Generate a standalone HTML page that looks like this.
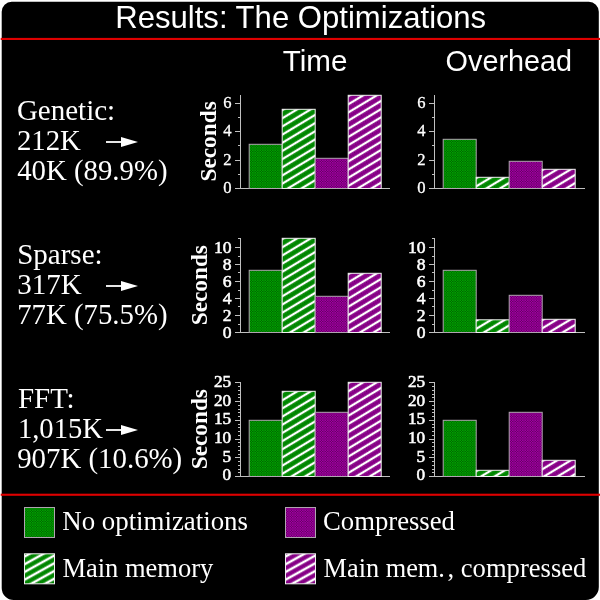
<!DOCTYPE html>
<html><head><meta charset="utf-8"><title>Results: The Optimizations</title>
<style>
html,body{margin:0;padding:0;background:#fff;}
body{width:600px;height:600px;overflow:hidden;}
svg{display:block;}
text{fill:#fff;}
.ttl{font-family:"Liberation Sans",Arial,Helvetica,sans-serif;font-size:31.1px;}
.hd{font-family:"Liberation Sans",Arial,Helvetica,sans-serif;}
.lb{font-family:"Liberation Serif","Times New Roman",serif;}
.lg{font-family:"Liberation Serif","Times New Roman",serif;}
.tk{font-family:"Liberation Serif","Times New Roman",serif;}
.tkb{font-weight:bold;}
.tkn{stroke:#fff;stroke-width:0.3px;}
.tks{stroke:#fff;stroke-width:0.55px;}
.sec{font-family:"Liberation Serif","Times New Roman",serif;font-size:23.3px;font-weight:bold;}
</style></head>
<body>
<svg width="600" height="600" viewBox="0 0 600 600">
<defs>
<pattern id="gs" width="5" height="5" patternUnits="userSpaceOnUse"><rect width="5" height="5" fill="#008600"/><path d="M0 0h1v1h-1zM2 0h1v1h-1zM1 1h1v1h-1zM0 2h1v1h-1zM2 2h1v1h-1z" fill="#00a000"/><path d="M1 0h1v1h-1zM0 1h1v1h-1zM2 1h1v1h-1zM1 2h1v1h-1z" fill="#006800"/></pattern>
<pattern id="ps" width="5" height="5" patternUnits="userSpaceOnUse"><rect width="5" height="5" fill="#860086"/><path d="M0 0h1v1h-1zM2 0h1v1h-1zM1 1h1v1h-1zM0 2h1v1h-1zM2 2h1v1h-1z" fill="#a000a0"/><path d="M1 0h1v1h-1zM0 1h1v1h-1zM2 1h1v1h-1zM1 2h1v1h-1z" fill="#680068"/></pattern>
</defs>
<rect x="0" y="0" width="600" height="600" fill="#fff"/>
<path d="M11.7 1.7H588.8A10 10 0 0 1 598.8 11.7V587A13 13 0 0 1 585.8 600H13.7A12 12 0 0 1 1.7 588V11.7A10 10 0 0 1 11.7 1.7Z" fill="#000"/>
<rect x="0.7" y="37.9" width="599.3" height="2.1" fill="#df0000"/>
<rect x="0.7" y="493.7" width="599.3" height="2.1" fill="#df0000"/>
<text transform="translate(115.2,27.6) scale(1,1.02)" class="ttl">Results: The Optimizations</text>
<text transform="translate(282.7,71.3) scale(1,1.02)" class="hd" font-size="29.6">Time</text>
<text transform="translate(445.6,71.3) scale(1,1.02)" class="hd" font-size="28.8">Overhead</text>
<text x="16.9" y="120" class="lb" font-size="29">Genetic:</text>
<text x="16.9" y="150" class="lb" font-size="28.8">212K</text>
<text x="17.2" y="179.7" class="lb" font-size="28.8">40K (89.9%)</text>
<text x="17.2" y="264" class="lb" font-size="29">Sparse:</text>
<text x="17.2" y="294" class="lb" font-size="29">317K</text>
<text x="17.2" y="323.7" class="lb" font-size="28.8">77K (75.5%)</text>
<text x="17.9" y="408" class="lb" font-size="29">FFT:</text>
<text x="17.9" y="438" class="lb" font-size="28.6">1,015K</text>
<text x="17.2" y="467.7" class="lb" font-size="28.85">907K (10.6%)</text>
<rect x="106" y="141.1" width="16" height="1.8" fill="#fff"/><polygon points="121,137 138,142 121,147" fill="#fff"/>
<rect x="106" y="285.1" width="16" height="1.8" fill="#fff"/><polygon points="121,281 138,286 121,291" fill="#fff"/>
<rect x="106" y="429.1" width="16" height="1.8" fill="#fff"/><polygon points="121,425 138,430 121,435" fill="#fff"/>
<rect x="240" y="95" width="1" height="94" fill="#c0c0c0"/>
<rect x="235" y="188" width="155" height="1" fill="#c0c0c0"/>
<rect x="235" y="160" width="5" height="1" fill="#c0c0c0"/>
<rect x="235" y="131" width="5" height="1" fill="#c0c0c0"/>
<rect x="235" y="103" width="5" height="1" fill="#c0c0c0"/>
<rect x="238" y="174" width="2" height="1" fill="#c0c0c0"/>
<rect x="238" y="145" width="2" height="1" fill="#c0c0c0"/>
<rect x="238" y="117" width="2" height="1" fill="#c0c0c0"/>
<text x="231.5" y="193.1" text-anchor="end" class="tk tkn" font-size="16.6">0</text>
<text x="231.5" y="164.7" text-anchor="end" class="tk tkn" font-size="16.6">2</text>
<text x="231.5" y="136.4" text-anchor="end" class="tk tkn" font-size="16.6">4</text>
<text x="231.5" y="108.1" text-anchor="end" class="tk tkn" font-size="16.6">6</text>
<rect x="249.2" y="144.3" width="33" height="44.2" fill="url(#gs)" stroke="#b0a4b0" stroke-width="1"/>
<pattern id="h1" width="20" height="7" patternUnits="userSpaceOnUse" patternTransform="translate(282.2,110.2) rotate(-31)"><rect width="20" height="7" fill="url(#gs)"/><rect width="20" height="1.15" fill="#fff"/><rect y="5.85" width="20" height="1.15" fill="#fff"/></pattern>
<rect x="282.2" y="109.3" width="33" height="79.2" fill="url(#h1)" stroke="#f0f0f0" stroke-width="1"/>
<rect x="315.2" y="158.3" width="33" height="30.2" fill="url(#ps)" stroke="#b0a4b0" stroke-width="1"/>
<pattern id="h2" width="20" height="7" patternUnits="userSpaceOnUse" patternTransform="translate(348.2,96.2) rotate(-31)"><rect width="20" height="7" fill="url(#ps)"/><rect width="20" height="1.15" fill="#fff"/><rect y="5.85" width="20" height="1.15" fill="#fff"/></pattern>
<rect x="348.2" y="95.3" width="33" height="93.2" fill="url(#h2)" stroke="#f0f0f0" stroke-width="1"/>
<text transform="translate(215.9,141.4) rotate(-90)" text-anchor="middle" class="sec">Seconds</text>
<rect x="434" y="95" width="1" height="94" fill="#c0c0c0"/>
<rect x="429" y="188" width="156" height="1" fill="#c0c0c0"/>
<rect x="429" y="160" width="5" height="1" fill="#c0c0c0"/>
<rect x="429" y="131" width="5" height="1" fill="#c0c0c0"/>
<rect x="429" y="103" width="5" height="1" fill="#c0c0c0"/>
<rect x="432" y="174" width="2" height="1" fill="#c0c0c0"/>
<rect x="432" y="145" width="2" height="1" fill="#c0c0c0"/>
<rect x="432" y="117" width="2" height="1" fill="#c0c0c0"/>
<text x="425.5" y="193.1" text-anchor="end" class="tk tkn" font-size="16.6">0</text>
<text x="425.5" y="164.7" text-anchor="end" class="tk tkn" font-size="16.6">2</text>
<text x="425.5" y="136.4" text-anchor="end" class="tk tkn" font-size="16.6">4</text>
<text x="425.5" y="108.1" text-anchor="end" class="tk tkn" font-size="16.6">6</text>
<rect x="443.2" y="139.3" width="33" height="49.2" fill="url(#gs)" stroke="#b0a4b0" stroke-width="1"/>
<pattern id="h3" width="20" height="7" patternUnits="userSpaceOnUse" patternTransform="translate(476.2,178.2) rotate(-31)"><rect width="20" height="7" fill="url(#gs)"/><rect width="20" height="1.15" fill="#fff"/><rect y="5.85" width="20" height="1.15" fill="#fff"/></pattern>
<rect x="476.2" y="177.3" width="33" height="11.2" fill="url(#h3)" stroke="#f0f0f0" stroke-width="1"/>
<rect x="509.2" y="161.3" width="33" height="27.2" fill="url(#ps)" stroke="#b0a4b0" stroke-width="1"/>
<pattern id="h4" width="20" height="7" patternUnits="userSpaceOnUse" patternTransform="translate(542.2,170.2) rotate(-31)"><rect width="20" height="7" fill="url(#ps)"/><rect width="20" height="1.15" fill="#fff"/><rect y="5.85" width="20" height="1.15" fill="#fff"/></pattern>
<rect x="542.2" y="169.3" width="33" height="19.2" fill="url(#h4)" stroke="#f0f0f0" stroke-width="1"/>
<rect x="240" y="238" width="1" height="95" fill="#c0c0c0"/>
<rect x="235" y="332" width="155" height="1" fill="#c0c0c0"/>
<rect x="235" y="315" width="5" height="1" fill="#c0c0c0"/>
<rect x="235" y="298" width="5" height="1" fill="#c0c0c0"/>
<rect x="235" y="281" width="5" height="1" fill="#c0c0c0"/>
<rect x="235" y="264" width="5" height="1" fill="#c0c0c0"/>
<rect x="235" y="247" width="5" height="1" fill="#c0c0c0"/>
<rect x="238" y="324" width="2" height="1" fill="#c0c0c0"/>
<rect x="238" y="306" width="2" height="1" fill="#c0c0c0"/>
<rect x="238" y="290" width="2" height="1" fill="#c0c0c0"/>
<rect x="238" y="272" width="2" height="1" fill="#c0c0c0"/>
<rect x="238" y="256" width="2" height="1" fill="#c0c0c0"/>
<rect x="238" y="238" width="2" height="1" fill="#c0c0c0"/>
<text x="231.5" y="338.1" text-anchor="end" class="tk tks" font-size="17.6">0</text>
<text x="231.5" y="321.1" text-anchor="end" class="tk tks" font-size="17.6">2</text>
<text x="231.5" y="304.1" text-anchor="end" class="tk tks" font-size="17.6">4</text>
<text x="231.5" y="287.1" text-anchor="end" class="tk tks" font-size="17.6">6</text>
<text x="231.5" y="270.1" text-anchor="end" class="tk tks" font-size="17.6">8</text>
<text x="231.5" y="253.1" text-anchor="end" class="tk tks" font-size="17.6">10</text>
<rect x="249.2" y="270.3" width="33" height="62.2" fill="url(#gs)" stroke="#b0a4b0" stroke-width="1"/>
<pattern id="h5" width="20" height="7" patternUnits="userSpaceOnUse" patternTransform="translate(282.2,239.2) rotate(-31)"><rect width="20" height="7" fill="url(#gs)"/><rect width="20" height="1.15" fill="#fff"/><rect y="5.85" width="20" height="1.15" fill="#fff"/></pattern>
<rect x="282.2" y="238.3" width="33" height="94.2" fill="url(#h5)" stroke="#f0f0f0" stroke-width="1"/>
<rect x="315.2" y="296.3" width="33" height="36.2" fill="url(#ps)" stroke="#b0a4b0" stroke-width="1"/>
<pattern id="h6" width="20" height="7" patternUnits="userSpaceOnUse" patternTransform="translate(348.2,274.2) rotate(-31)"><rect width="20" height="7" fill="url(#ps)"/><rect width="20" height="1.15" fill="#fff"/><rect y="5.85" width="20" height="1.15" fill="#fff"/></pattern>
<rect x="348.2" y="273.3" width="33" height="59.2" fill="url(#h6)" stroke="#f0f0f0" stroke-width="1"/>
<text transform="translate(206.8,285.2) rotate(-90)" text-anchor="middle" class="sec">Seconds</text>
<rect x="434" y="238" width="1" height="95" fill="#c0c0c0"/>
<rect x="429" y="332" width="156" height="1" fill="#c0c0c0"/>
<rect x="429" y="315" width="5" height="1" fill="#c0c0c0"/>
<rect x="429" y="298" width="5" height="1" fill="#c0c0c0"/>
<rect x="429" y="281" width="5" height="1" fill="#c0c0c0"/>
<rect x="429" y="264" width="5" height="1" fill="#c0c0c0"/>
<rect x="429" y="247" width="5" height="1" fill="#c0c0c0"/>
<rect x="432" y="324" width="2" height="1" fill="#c0c0c0"/>
<rect x="432" y="306" width="2" height="1" fill="#c0c0c0"/>
<rect x="432" y="290" width="2" height="1" fill="#c0c0c0"/>
<rect x="432" y="272" width="2" height="1" fill="#c0c0c0"/>
<rect x="432" y="256" width="2" height="1" fill="#c0c0c0"/>
<rect x="432" y="238" width="2" height="1" fill="#c0c0c0"/>
<text x="425.5" y="338.1" text-anchor="end" class="tk tks" font-size="17.6">0</text>
<text x="425.5" y="321.1" text-anchor="end" class="tk tks" font-size="17.6">2</text>
<text x="425.5" y="304.1" text-anchor="end" class="tk tks" font-size="17.6">4</text>
<text x="425.5" y="287.1" text-anchor="end" class="tk tks" font-size="17.6">6</text>
<text x="425.5" y="270.1" text-anchor="end" class="tk tks" font-size="17.6">8</text>
<text x="425.5" y="253.1" text-anchor="end" class="tk tks" font-size="17.6">10</text>
<rect x="443.2" y="270.3" width="33" height="62.2" fill="url(#gs)" stroke="#b0a4b0" stroke-width="1"/>
<pattern id="h7" width="20" height="7" patternUnits="userSpaceOnUse" patternTransform="translate(476.2,320.7) rotate(-31)"><rect width="20" height="7" fill="url(#gs)"/><rect width="20" height="1.15" fill="#fff"/><rect y="5.85" width="20" height="1.15" fill="#fff"/></pattern>
<rect x="476.2" y="319.8" width="33" height="12.7" fill="url(#h7)" stroke="#f0f0f0" stroke-width="1"/>
<rect x="509.2" y="295.3" width="33" height="37.2" fill="url(#ps)" stroke="#b0a4b0" stroke-width="1"/>
<pattern id="h8" width="20" height="7" patternUnits="userSpaceOnUse" patternTransform="translate(542.2,320.2) rotate(-31)"><rect width="20" height="7" fill="url(#ps)"/><rect width="20" height="1.15" fill="#fff"/><rect y="5.85" width="20" height="1.15" fill="#fff"/></pattern>
<rect x="542.2" y="319.3" width="33" height="13.2" fill="url(#h8)" stroke="#f0f0f0" stroke-width="1"/>
<rect x="240" y="382" width="1" height="95" fill="#c0c0c0"/>
<rect x="235" y="476" width="155" height="1" fill="#c0c0c0"/>
<rect x="235" y="457" width="5" height="1" fill="#c0c0c0"/>
<rect x="235" y="439" width="5" height="1" fill="#c0c0c0"/>
<rect x="235" y="420" width="5" height="1" fill="#c0c0c0"/>
<rect x="235" y="401" width="5" height="1" fill="#c0c0c0"/>
<rect x="235" y="382" width="5" height="1" fill="#c0c0c0"/>
<rect x="238" y="472" width="2" height="1" fill="#c0c0c0"/>
<rect x="238" y="469" width="2" height="1" fill="#c0c0c0"/>
<rect x="238" y="465" width="2" height="1" fill="#c0c0c0"/>
<rect x="238" y="461" width="2" height="1" fill="#c0c0c0"/>
<rect x="238" y="454" width="2" height="1" fill="#c0c0c0"/>
<rect x="238" y="450" width="2" height="1" fill="#c0c0c0"/>
<rect x="238" y="446" width="2" height="1" fill="#c0c0c0"/>
<rect x="238" y="442" width="2" height="1" fill="#c0c0c0"/>
<rect x="238" y="435" width="2" height="1" fill="#c0c0c0"/>
<rect x="238" y="431" width="2" height="1" fill="#c0c0c0"/>
<rect x="238" y="427" width="2" height="1" fill="#c0c0c0"/>
<rect x="238" y="424" width="2" height="1" fill="#c0c0c0"/>
<rect x="238" y="416" width="2" height="1" fill="#c0c0c0"/>
<rect x="238" y="412" width="2" height="1" fill="#c0c0c0"/>
<rect x="238" y="409" width="2" height="1" fill="#c0c0c0"/>
<rect x="238" y="405" width="2" height="1" fill="#c0c0c0"/>
<rect x="238" y="397" width="2" height="1" fill="#c0c0c0"/>
<rect x="238" y="394" width="2" height="1" fill="#c0c0c0"/>
<rect x="238" y="390" width="2" height="1" fill="#c0c0c0"/>
<rect x="238" y="386" width="2" height="1" fill="#c0c0c0"/>
<text x="231.1" y="480.4" text-anchor="end" class="tk tks" font-size="17.2">0</text>
<text x="231.1" y="461.7" text-anchor="end" class="tk tks" font-size="17.2">5</text>
<text x="231.1" y="443.0" text-anchor="end" class="tk tks" font-size="17.2">10</text>
<text x="231.1" y="424.3" text-anchor="end" class="tk tks" font-size="17.2">15</text>
<text x="231.1" y="405.6" text-anchor="end" class="tk tks" font-size="17.2">20</text>
<text x="231.1" y="386.9" text-anchor="end" class="tk tks" font-size="17.2">25</text>
<rect x="249.2" y="420.3" width="33" height="56.2" fill="url(#gs)" stroke="#b0a4b0" stroke-width="1"/>
<pattern id="h9" width="20" height="7" patternUnits="userSpaceOnUse" patternTransform="translate(282.2,392.2) rotate(-31)"><rect width="20" height="7" fill="url(#gs)"/><rect width="20" height="1.15" fill="#fff"/><rect y="5.85" width="20" height="1.15" fill="#fff"/></pattern>
<rect x="282.2" y="391.3" width="33" height="85.2" fill="url(#h9)" stroke="#f0f0f0" stroke-width="1"/>
<rect x="315.2" y="412.3" width="33" height="64.2" fill="url(#ps)" stroke="#b0a4b0" stroke-width="1"/>
<pattern id="h10" width="20" height="7" patternUnits="userSpaceOnUse" patternTransform="translate(348.2,383.2) rotate(-31)"><rect width="20" height="7" fill="url(#ps)"/><rect width="20" height="1.15" fill="#fff"/><rect y="5.85" width="20" height="1.15" fill="#fff"/></pattern>
<rect x="348.2" y="382.3" width="33" height="94.2" fill="url(#h10)" stroke="#f0f0f0" stroke-width="1"/>
<text transform="translate(206.8,429.2) rotate(-90)" text-anchor="middle" class="sec">Seconds</text>
<rect x="434" y="382" width="1" height="95" fill="#c0c0c0"/>
<rect x="429" y="476" width="156" height="1" fill="#c0c0c0"/>
<rect x="429" y="457" width="5" height="1" fill="#c0c0c0"/>
<rect x="429" y="439" width="5" height="1" fill="#c0c0c0"/>
<rect x="429" y="420" width="5" height="1" fill="#c0c0c0"/>
<rect x="429" y="401" width="5" height="1" fill="#c0c0c0"/>
<rect x="429" y="382" width="5" height="1" fill="#c0c0c0"/>
<rect x="432" y="472" width="2" height="1" fill="#c0c0c0"/>
<rect x="432" y="469" width="2" height="1" fill="#c0c0c0"/>
<rect x="432" y="465" width="2" height="1" fill="#c0c0c0"/>
<rect x="432" y="461" width="2" height="1" fill="#c0c0c0"/>
<rect x="432" y="454" width="2" height="1" fill="#c0c0c0"/>
<rect x="432" y="450" width="2" height="1" fill="#c0c0c0"/>
<rect x="432" y="446" width="2" height="1" fill="#c0c0c0"/>
<rect x="432" y="442" width="2" height="1" fill="#c0c0c0"/>
<rect x="432" y="435" width="2" height="1" fill="#c0c0c0"/>
<rect x="432" y="431" width="2" height="1" fill="#c0c0c0"/>
<rect x="432" y="427" width="2" height="1" fill="#c0c0c0"/>
<rect x="432" y="424" width="2" height="1" fill="#c0c0c0"/>
<rect x="432" y="416" width="2" height="1" fill="#c0c0c0"/>
<rect x="432" y="412" width="2" height="1" fill="#c0c0c0"/>
<rect x="432" y="409" width="2" height="1" fill="#c0c0c0"/>
<rect x="432" y="405" width="2" height="1" fill="#c0c0c0"/>
<rect x="432" y="397" width="2" height="1" fill="#c0c0c0"/>
<rect x="432" y="394" width="2" height="1" fill="#c0c0c0"/>
<rect x="432" y="390" width="2" height="1" fill="#c0c0c0"/>
<rect x="432" y="386" width="2" height="1" fill="#c0c0c0"/>
<text x="425.1" y="480.4" text-anchor="end" class="tk tks" font-size="17.2">0</text>
<text x="425.1" y="461.7" text-anchor="end" class="tk tks" font-size="17.2">5</text>
<text x="425.1" y="443.0" text-anchor="end" class="tk tks" font-size="17.2">10</text>
<text x="425.1" y="424.3" text-anchor="end" class="tk tks" font-size="17.2">15</text>
<text x="425.1" y="405.6" text-anchor="end" class="tk tks" font-size="17.2">20</text>
<text x="425.1" y="386.9" text-anchor="end" class="tk tks" font-size="17.2">25</text>
<rect x="443.2" y="420.3" width="33" height="56.2" fill="url(#gs)" stroke="#b0a4b0" stroke-width="1"/>
<pattern id="h11" width="20" height="7" patternUnits="userSpaceOnUse" patternTransform="translate(476.2,471.2) rotate(-31)"><rect width="20" height="7" fill="url(#gs)"/><rect width="20" height="1.15" fill="#fff"/><rect y="5.85" width="20" height="1.15" fill="#fff"/></pattern>
<rect x="476.2" y="470.3" width="33" height="6.2" fill="url(#h11)" stroke="#f0f0f0" stroke-width="1"/>
<rect x="509.2" y="412.3" width="33" height="64.2" fill="url(#ps)" stroke="#b0a4b0" stroke-width="1"/>
<pattern id="h12" width="20" height="7" patternUnits="userSpaceOnUse" patternTransform="translate(542.2,461.2) rotate(-31)"><rect width="20" height="7" fill="url(#ps)"/><rect width="20" height="1.15" fill="#fff"/><rect y="5.85" width="20" height="1.15" fill="#fff"/></pattern>
<rect x="542.2" y="460.3" width="33" height="16.2" fill="url(#h12)" stroke="#f0f0f0" stroke-width="1"/>
<rect x="24.5" y="507.5" width="30" height="30" fill="url(#gs)" stroke="#b0a4b0"/>
<pattern id="h13" width="20" height="6.75" patternUnits="userSpaceOnUse" patternTransform="translate(24.5,556.6) rotate(-29)"><rect width="20" height="6.75" fill="url(#gs)"/><rect width="20" height="1.25" fill="#fff"/><rect y="5.5" width="20" height="1.25" fill="#fff"/></pattern><rect x="24.5" y="553.8" width="30" height="30" fill="url(#h13)" stroke="#f0f0f0"/>
<rect x="285.5" y="507.5" width="30" height="30" fill="url(#ps)" stroke="#b0a4b0"/>
<pattern id="h14" width="20" height="6.75" patternUnits="userSpaceOnUse" patternTransform="translate(285.5,556.6) rotate(-29)"><rect width="20" height="6.75" fill="url(#ps)"/><rect width="20" height="1.25" fill="#fff"/><rect y="5.5" width="20" height="1.25" fill="#fff"/></pattern><rect x="285.5" y="553.8" width="30" height="30" fill="url(#h14)" stroke="#f0f0f0"/>
<text x="62.3" y="530.2" class="lg" font-size="26.85">No optimizations</text>
<text x="62.4" y="577" class="lg" font-size="26.5">Main memory</text>
<text x="323" y="530.2" class="lg" font-size="26.7">Compressed</text>
<text x="323.6" y="577" class="lg" font-size="26.3">Main mem.<tspan x="447.5" font-size="26.6">, compressed</tspan></text>
</svg>
</body></html>
